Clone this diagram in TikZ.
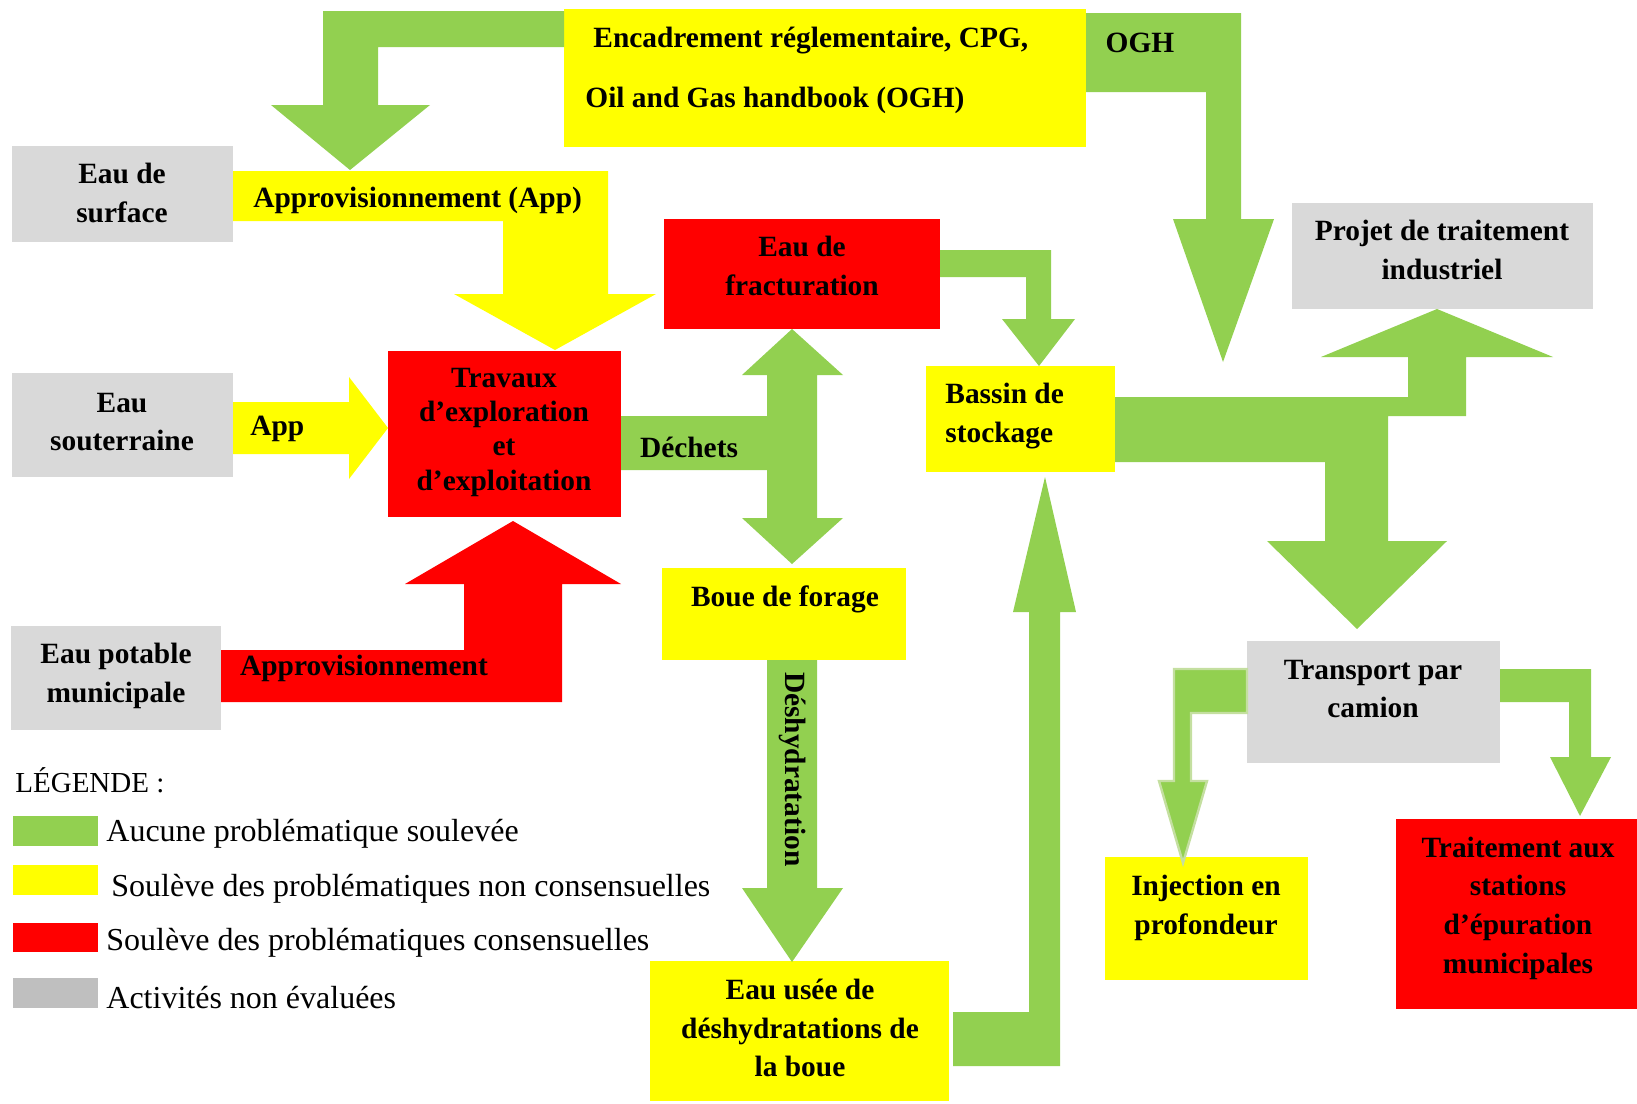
\documentclass[tikz,border=0pt]{standalone}
\usepackage{fontspec}
\setmainfont{Liberation Serif}
\usetikzlibrary{fit}
\definecolor{cgreen}{HTML}{92D050}
\definecolor{cyellow}{HTML}{FFFF00}
\definecolor{cred}{HTML}{FF0000}
\definecolor{cgray}{HTML}{D9D9D9}
\definecolor{clegray}{HTML}{BFBFBF}
\definecolor{cpale}{HTML}{C4DFA0}
\begin{document}
\begin{tikzpicture}[x=0.5pt,y=-0.5pt,
  boxshape/.style={inner sep=0pt, outer sep=0pt, draw=none},
  lbl/.style={font=\bfseries\fontsize{14.7}{19.3}\selectfont, align=center, inner sep=0pt, yshift=-1.6pt},
  lbltight/.style={font=\bfseries\fontsize{14.7}{17.2}\selectfont, align=center, inner sep=0pt, yshift=-1.6pt},
  legtext/.style={font=\fontsize{16}{19}\selectfont, anchor=west, inner sep=0pt, yshift=-1.4pt},
  swatch/.style={inner sep=0pt, outer sep=0pt, draw=none}]
\useasboundingbox (0,0) rectangle (1637,1103);
% boxes
\node[boxshape, fit={(564,9) (1086,147)}, fill=cyellow] (enc) {};
\node[boxshape, fit={(12,146) (233,242)}, fill=cgray] (surf) {};
\node[boxshape, fit={(12,373) (233,477)}, fill=cgray] (sout) {};
\node[boxshape, fit={(11,626) (221,730)}, fill=cgray] (pot) {};
\node[boxshape, fit={(388,351) (621,517)}, fill=cred] (trav) {};
\node[boxshape, fit={(664,219) (940,329)}, fill=cred] (frac) {};
\node[boxshape, fit={(662,568) (906,660)}, fill=cyellow] (boue) {};
\node[boxshape, fit={(650,961) (949,1101)}, fill=cyellow] (usee) {};
\node[boxshape, fit={(926,366) (1115,472)}, fill=cyellow] (bass) {};
\node[boxshape, fit={(1292,203) (1593,309)}, fill=cgray] (proj) {};
\node[boxshape, fit={(1247,641) (1500,763)}, fill=cgray] (trans) {};
\node[boxshape, fit={(1105,857) (1308,980)}, fill=cyellow] (inj) {};
\node[boxshape, fit={(1396,819) (1637,1009)}, fill=cred] (trait) {};
% block arrows
\fill[cgreen] (enc.west |- 0,11) -- (323,11) -- (323,105) -- (271,105) -- (350,170) -- (430,105) -- (378,105) -- (378,47) -- (enc.west |- 0,47) -- cycle;
\fill[cyellow] (surf.east |- 0,171) -- (608,171) -- (608,294) -- (656,294) -- (555,350) -- (454,294) -- (503,294) -- (503,221) -- (surf.east |- 0,221) -- cycle;
\fill[cyellow] (sout.east |- 0,402) -- (349,402) -- (349,377) -- (trav.west |- 0,428) -- (349,479) -- (349,454) -- (sout.east |- 0,454) -- cycle;
\fill[cred] (pot.east |- 0,650) -- (464,650) -- (464,584) -- (405,584) -- (513,521) -- (621,584) -- (562,584) -- (562,702) -- (pot.east |- 0,702) -- cycle;
\fill[cgreen] (trav.east |- 0,416) -- (767,416) -- (767,375) -- (742,375) -- (792,329) -- (843,375) -- (817,375) -- (817,518) -- (843,518) -- (792,564) -- (742,518) -- (767,518) -- (767,470) -- (trav.east |- 0,470) -- cycle;
\fill[cgreen] (frac.east |- 0,250) -- (1051,250) -- (1051,319) -- (1075,319) -- (1039,366) -- (1002,319) -- (1026,319) -- (1026,277) -- (frac.east |- 0,277) -- cycle;
\fill[cgreen] (enc.east |- 0,13) -- (1241,13) -- (1241,219) -- (1274,219) -- (1223,362) -- (1173,219) -- (1206,219) -- (1206,92) -- (enc.east |- 0,92) -- cycle;
\fill[cgreen] (bass.east |- 0,397) -- (1408,397) -- (1408,357) -- (1321,357) -- (1437,309) -- (1553,357) -- (1466,357) -- (1466,416) -- (1388,416) -- (1388,541) -- (1447,541) -- (1357,629) -- (1267,541) -- (1325,541) -- (1325,462) -- (bass.east |- 0,462) -- cycle;
\fill[cgreen] (953,1012) -- (1029,1012) -- (1029,612) -- (1013,612) -- (1045,477) -- (1076,612) -- (1060,612) -- (1060,1066) -- (953,1066) -- cycle;
\fill[cgreen] (767,0 |- boue.south) -- (817,0 |- boue.south) -- (817,888) -- (843,888) -- (792,962) -- (742,888) -- (767,888) -- cycle;
\filldraw[fill=cgreen, draw=cpale, line width=1.2pt] (trans.west |- 0,669) -- (1174,669) -- (1174,781) -- (1159,781) -- (1183,863) -- (1207,781) -- (1191,781) -- (1191,713) -- (trans.west |- 0,713) -- cycle;
\fill[cgreen] (trans.east |- 0,669) -- (1591,669) -- (1591,757) -- (1611,757) -- (1580,816) -- (1550,757) -- (1569,757) -- (1569,702) -- (trans.east |- 0,702) -- cycle;
% texts
\node[lbl, align=left, anchor=west, font=\bfseries\fontsize{14.7}{30}\selectfont] (tenc) at (585,67) {\hspace*{4pt}Encadrement réglementaire, CPG,\\Oil and Gas handbook (OGH)};
\node[lbl] (tsurf) at (122,190) {Eau de\\surface};
\node[lbl, anchor=west] (tapp1) at (253,197) {Approvisionnement (App)};
\node[lbl] (tsout) at (122,419) {Eau\\souterraine};
\node[lbl, anchor=west] (tapp2) at (250,426) {App};
\node[lbltight] (ttrav) at (504,429) {Travaux\\d’exploration\\et\\d’exploitation};
\node[lbl] (tfrac) at (802,263) {Eau de\\fracturation};
\node[lbl] (tdech) at (689,444) {Déchets};
\node[lbl, align=left, anchor=west] (tbass) at (945,413) {Bassin de\\stockage};
\node[lbl] (togh) at (1140,40) {OGH};
\node[lbl] (tproj) at (1442,247) {Projet de traitement\\industriel};
\node[lbl] (tboue) at (785,596) {Boue de forage};
\node[lbl] (tpot) at (116,673) {Eau potable\\municipale};
\node[lbl] (tappr) at (364,665) {Approvisionnement};
\node[lbl] (ttrans) at (1373,686) {Transport par\\camion};
\node[lbl] (tinj) at (1206,905) {Injection en\\profondeur};
\node[lbl] (ttrait) at (1518,905) {Traitement aux\\stations\\d’épuration\\municipales};
\node[lbl] (tusee) at (800,1025) {Eau usée de\\déshydratations de\\la boue};
\node[lbl, rotate=-90, yshift=1.6pt] (tdesh) at (789,766) {Déshydratation};
% legend
\node[legtext, font=\fontsize{14.5}{17}\selectfont] (tleg) at (15,777) {LÉGENDE :};
\node[swatch, fit={(13,816) (98,846)}, fill=cgreen] (sw1) {};
\node[swatch, fit={(13,865) (98,895)}, fill=cyellow] (sw2) {};
\node[swatch, fit={(13,923) (98,952)}, fill=cred] (sw3) {};
\node[swatch, fit={(13,978) (98,1008)}, fill=clegray] (sw4) {};
\node[legtext] (tl1) at (106,831) {Aucune problématique soulevée};
\node[legtext] (tl2) at (111,886) {Soulève des problématiques non consensuelles};
\node[legtext] (tl3) at (106,940) {Soulève des problématiques consensuelles};
\node[legtext] (tl4) at (106,995) {Activités non évaluées};
\end{tikzpicture}
\end{document}
